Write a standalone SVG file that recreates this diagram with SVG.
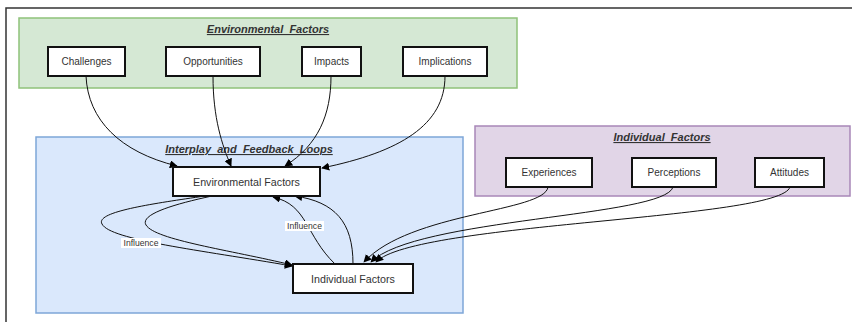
<svg xmlns="http://www.w3.org/2000/svg" width="852" height="322" viewBox="0 0 852 322">
  <defs>
    <marker id="arrow" viewBox="0 0 10 10" refX="9" refY="5" markerWidth="8" markerHeight="8" markerUnits="userSpaceOnUse" orient="auto">
      <path d="M0,0 L10,5 L0,10 z" fill="#000"/>
    </marker>
    <style>
      .frame { fill: none; stroke: #333; stroke-width: 1.5; }
      .node rect { fill: #fff; stroke: #111; stroke-width: 2; }
      .node text { font-family: "Liberation Sans", Arial, sans-serif; font-size: 10px; fill: #333; text-anchor: middle; dominant-baseline: central; }
      .big text { font-size: 10.7px; }
      .title { font-family: "Liberation Sans", Arial, sans-serif; font-size: 11px; font-weight: bold; font-style: italic; text-decoration: underline; fill: #333; text-anchor: middle; }
      .edges path { fill: none; stroke: #111; stroke-width: 1; marker-end: url(#arrow); }
      .lbl rect { fill: #fff; }
      .lbl text { font-family: "Liberation Sans", Arial, sans-serif; font-size: 8.6px; fill: #333; text-anchor: middle; dominant-baseline: central; }
    </style>
  </defs>

  <rect width="852" height="322" fill="#fff"/>
  <!-- page frame -->
  <path class="frame" d="M6,322 V8 H852"/>

  <!-- clusters -->
  <g id="cluster-environmental">
    <rect x="19" y="18" width="498" height="70" fill="#d5e8d4" stroke="#8fc27a" stroke-width="1.5"/>
    <text class="title" x="268" y="33">Environmental_Factors</text>
  </g>
  <g id="cluster-interplay">
    <rect x="36" y="137" width="427" height="176" fill="#dae8fc" stroke="#7ea6d8" stroke-width="1.5"/>
    <text class="title" x="249" y="153">Interplay_and_Feedback_Loops</text>
  </g>
  <g id="cluster-individual">
    <rect x="475" y="126" width="375" height="70" fill="#e1d5e7" stroke="#a887b8" stroke-width="1.5"/>
    <text class="title" x="662" y="141">Individual_Factors</text>
  </g>

  <!-- connectors -->
  <g id="connectors" class="edges">
    <path d="M86,76 C88,120 120,152 177,166"/>
    <path d="M213,76 C213,118 222,145 231,166"/>
    <path d="M331,76 C331,115 318,145 285,166"/>
    <path d="M445,76 C445,125 400,152 322,168"/>

    <path d="M205,196 C150,204 95,212 102,224 C110,240 200,250 292,266"/>
    <path d="M212,196 C170,205 140,215 146,225 C155,240 230,250 292,265"/>

    <path d="M335,264 C305,235 308,205 273,197"/>
    <path d="M353,264 C353,222 335,202 295,196"/>

    <path d="M548,187 C545,212 410,212 364,262"/>
    <path d="M673,187 C665,217 415,218 371,262"/>
    <path d="M790,187 C780,220 415,222 376,262"/>
  </g>

  <!-- edge labels -->
  <g class="lbl">
    <rect x="121" y="238" width="40" height="10"/>
    <text x="141" y="243">Influence</text>
    <rect x="285" y="221" width="39" height="10"/>
    <text x="304.5" y="226">Influence</text>
  </g>

  <!-- nodes -->
  <g id="challenges" class="node"><rect x="48" y="47" width="77" height="29"/><text x="86.5" y="61.5">Challenges</text></g>
  <g id="opportunities" class="node"><rect x="166" y="47" width="94" height="29"/><text x="213" y="61.5">Opportunities</text></g>
  <g id="impacts" class="node"><rect x="302" y="47" width="59" height="29"/><text x="331.5" y="61.5">Impacts</text></g>
  <g id="implications" class="node"><rect x="403" y="47" width="84" height="29"/><text x="445" y="61.5">Implications</text></g>

  <g id="environmental-factors" class="node big"><rect x="173" y="167" width="147" height="29"/><text x="246.5" y="181.5">Environmental Factors</text></g>
  <g id="individual-factors" class="node big"><rect x="293" y="264" width="120" height="29"/><text x="353" y="278.5">Individual Factors</text></g>

  <g id="experiences" class="node"><rect x="506" y="158" width="86" height="29"/><text x="549" y="172.5">Experiences</text></g>
  <g id="perceptions" class="node"><rect x="632" y="158" width="84" height="29"/><text x="674" y="172.5">Perceptions</text></g>
  <g id="attitudes" class="node"><rect x="755" y="158" width="69" height="29"/><text x="789.5" y="172.5">Attitudes</text></g>
</svg>
